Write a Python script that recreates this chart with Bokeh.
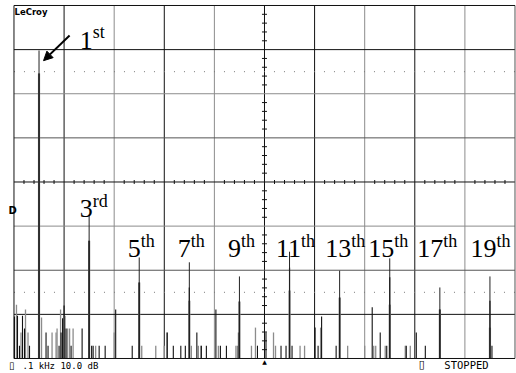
from bokeh.plotting import figure
from bokeh.models import Label, Arrow, NormalHead
from bokeh.embed import file_html
from bokeh.resources import INLINE

# ---------------- data (Hz, dB) ----------------
harm_order = [1, 3, 5, 7, 9, 11, 13, 15, 17, 19]
harm_hz = [50, 150, 250, 350, 450, 550, 650, 750, 850, 950]
harm_peak_db = [-10.2, -47.4, -57.1, -58.2, -61.4, -55.8, -60.1, -57.3, -63.9, -61.4]
harm_body_db = [-15.4, -53.3, -62.8, -63.9, -67.1, -59.4, -66.2, -61.6, -68.9, -66.9]
harm_gray_db = [-15.4, -53.3, -62.8, -66.9, -67.1, -64.6, -66.2, -67.8, -68.9, -73.0]

label_num = ["1", "3", "5", "7", "9", "11", "13", "15", "17", "19"]
label_sup = ["st", "rd", "th", "th", "th", "th", "th", "th", "th", "th"]
label_hz = [157, 157, 253, 353, 453, 573, 673, 759, 857, 963]
label_db = [-7.9, -46.0, -55.1, -55.1, -55.1, -55.1, -55.1, -55.1, -55.1, -55.1]
sup_db = [-6.1, -44.4, -53.3, -53.3, -53.3, -53.3, -53.3, -53.3, -53.3, -53.3]

noise_black_hz = [1, 7, 11, 17, 21, 31, 64, 68, 90, 94, 97, 100, 104, 114, 136, 155, 158,
                  170, 182, 203, 236, 306, 318, 333, 342, 365, 374, 384, 403, 412, 424,
                  448, 486, 503, 533, 543, 555, 601, 607, 614, 643, 715, 731, 744, 783,
                  803, 821, 954]
noise_black_db = [-70.5, -70.3, -77.1, -70.3, -73.2, -77.1, -74.1, -77.1, -77.1, -74.1,
                  -70.9, -68.0, -73.2, -77.1, -73.2, -77.1, -77.1, -77.1, -77.1, -68.9,
                  -77.1, -74.1, -77.1, -77.1, -77.1, -74.1, -77.1, -77.1, -68.9, -77.1,
                  -77.1, -74.1, -77.1, -74.1, -77.1, -77.1, -77.1, -73.0, -77.1, -70.5,
                  -77.1, -68.4, -74.1, -77.1, -77.1, -74.1, -77.1, -77.1]
noise_gray_hz = [5, 14, 23, 28, 55, 76, 84, 86, 93, 102, 107, 111, 118, 163, 200, 249, 255,
                 283, 300, 305, 354, 368, 373, 408, 443, 446, 474, 482, 518, 522, 571, 580,
                 612, 666, 700, 718, 722, 741, 781, 791]
noise_gray_db = [-67.8, -74.1, -68.9, -74.1, -70.7, -74.1, -74.1, -73.2, -68.9, -70.3,
                 -73.2, -73.2, -73.2, -77.1, -74.1, -77.1, -77.1, -77.1, -77.1, -74.1,
                 -77.1, -77.1, -77.1, -77.1, -77.1, -77.1, -77.1, -73.0, -74.1, -77.1,
                 -77.1, -77.1, -73.0, -77.1, -77.1, -77.1, -77.1, -77.1, -77.1, -77.1]

# screen: 0..1 kHz (0.1 kHz/div), -80..0 dB (10 dB/div)
scr_x0, scr_x1 = 0, 1000
scr_y0, scr_y1 = -80, 0
grid_black_x = [100, 300, 500, 600, 800]
grid_gray_x = [200, 400, 700, 900]
grid_black_y = [-10, -40, -70]
grid_dark_y = [-30, -60]
grid_gray_y = [-20, -50]
dotted_y = [-15, -65]

# whole picture window, in the screen's own units (screen fills most of it)
win_x = (-26.9, 1003.0)
win_y = (-83.4, 1.13)

BLACK = "#111111"
GRAY = "#8c8c8c"

p = figure(width=516, height=373, x_range=win_x, y_range=win_y,
           x_axis_type=None, y_axis_type=None, output_backend="svg",
           toolbar_location=None, min_border=0)
p.min_border_left = p.min_border_right = p.min_border_top = p.min_border_bottom = 0
p.background_fill_color = "white"
p.border_fill_color = "white"
p.outline_line_color = None
p.xgrid.visible = False
p.ygrid.visible = False


def vlines(xs, color, **kw):
    p.segment(x0=xs, x1=xs, y0=[scr_y0] * len(xs), y1=[scr_y1] * len(xs),
              line_color=color, line_width=1, **kw)


def hlines(ys, color, **kw):
    p.segment(x0=[scr_x0] * len(ys), x1=[scr_x1] * len(ys), y0=ys, y1=ys,
              line_color=color, line_width=1, **kw)


vlines(grid_gray_x, GRAY)
vlines(grid_black_x, BLACK)
hlines(grid_gray_y, GRAY)
hlines(grid_dark_y, "#555555")
hlines(grid_black_y, BLACK)
hlines(dotted_y, "#7a7a7a", line_dash="1 9")

# centre cross-hair minor ticks
cx, cy = 500, -40
hx = [v for v in range(20, 1000, 20) if v % 100 != 0]
p.segment(x0=hx, x1=hx, y0=[cy - 0.45] * len(hx), y1=[cy + 0.45] * len(hx),
          line_color=BLACK, line_width=1)
vy = [v for v in range(-78, 0, 2) if v % 10 != 0]
p.segment(x0=[cx - 5] * len(vy), x1=[cx + 5] * len(vy), y0=vy, y1=vy,
          line_color=BLACK, line_width=1)

# noise floor
p.segment(x0=noise_gray_hz, x1=noise_gray_hz, y0=[scr_y0] * len(noise_gray_hz),
          y1=noise_gray_db, line_color=GRAY, line_width=1.3)
p.segment(x0=noise_black_hz, x1=noise_black_hz, y0=[scr_y0] * len(noise_black_hz),
          y1=noise_black_db, line_color=BLACK, line_width=1.1)

# harmonics
p.segment(x0=harm_hz, x1=harm_hz, y0=[scr_y0] * len(harm_hz), y1=harm_gray_db,
          line_color=GRAY, line_width=2.2)
p.segment(x0=harm_hz, x1=harm_hz, y0=[scr_y0] * len(harm_hz), y1=harm_body_db,
          line_color=BLACK, line_width=1.2)
p.segment(x0=harm_hz, x1=harm_hz, y0=[scr_y0] * len(harm_hz), y1=harm_peak_db,
          line_color="#222222", line_width=1)

# screen border
vlines([scr_x0], BLACK)
vlines([scr_x1], "#555555")
hlines([scr_y0, scr_y1], BLACK)

# harmonic labels
for n, s, lx, ly, sy in zip(label_num, label_sup, label_hz, label_db, sup_db):
    p.add_layout(Label(x=lx, y=ly, text=n, text_align="right", text_baseline="alphabetic",
                       text_font="Liberation Serif", text_font_size="26px",
                       text_color="black"))
    p.add_layout(Label(x=lx, y=sy, text=s, text_align="left", text_baseline="alphabetic",
                       text_font="Liberation Serif", text_font_size="18px",
                       text_color="black"))

# arrow to 1st harmonic
p.add_layout(Arrow(x_start=111, y_start=-6.8, x_end=59, y_end=-12.5, line_width=2,
                   line_color="black",
                   end=NormalHead(size=9, fill_color="black", line_color="black")))

# scope annotations
p.add_layout(Label(x=1, y=-2.7, text="LeCroy", text_font="DejaVu Sans",
                   text_font_style="bold", text_font_size="8.5px", text_color="black"))
p.add_layout(Label(x=-11, y=-47.8, text="D", text_font="DejaVu Sans",
                   text_font_style="bold", text_font_size="10px", text_color="black"))
p.add_layout(Label(x=500, y=scr_y0, text="\u25b2", text_align="center",
                   text_baseline="top", text_font="DejaVu Sans", text_font_size="6px",
                   text_color="black"))
p.add_layout(Label(x=-10, y=-82.9, text="\u25af", text_font="DejaVu Sans",
                   text_font_size="10px", text_color="black"))
p.add_layout(Label(x=17, y=-82.9, text=".1 kHz 10.0 dB", text_font="DejaVu Sans Mono",
                   text_font_size="9px", text_color="black"))
p.add_layout(Label(x=808, y=-82.9, text="\u25af", text_font="DejaVu Sans",
                   text_font_size="11px", text_color="black"))
p.add_layout(Label(x=859, y=-82.9, text="STOPPED", text_font="DejaVu Sans Mono",
                   text_font_size="10.5px", text_color="black"))

open("out.html", "w").write(file_html(p, INLINE))
